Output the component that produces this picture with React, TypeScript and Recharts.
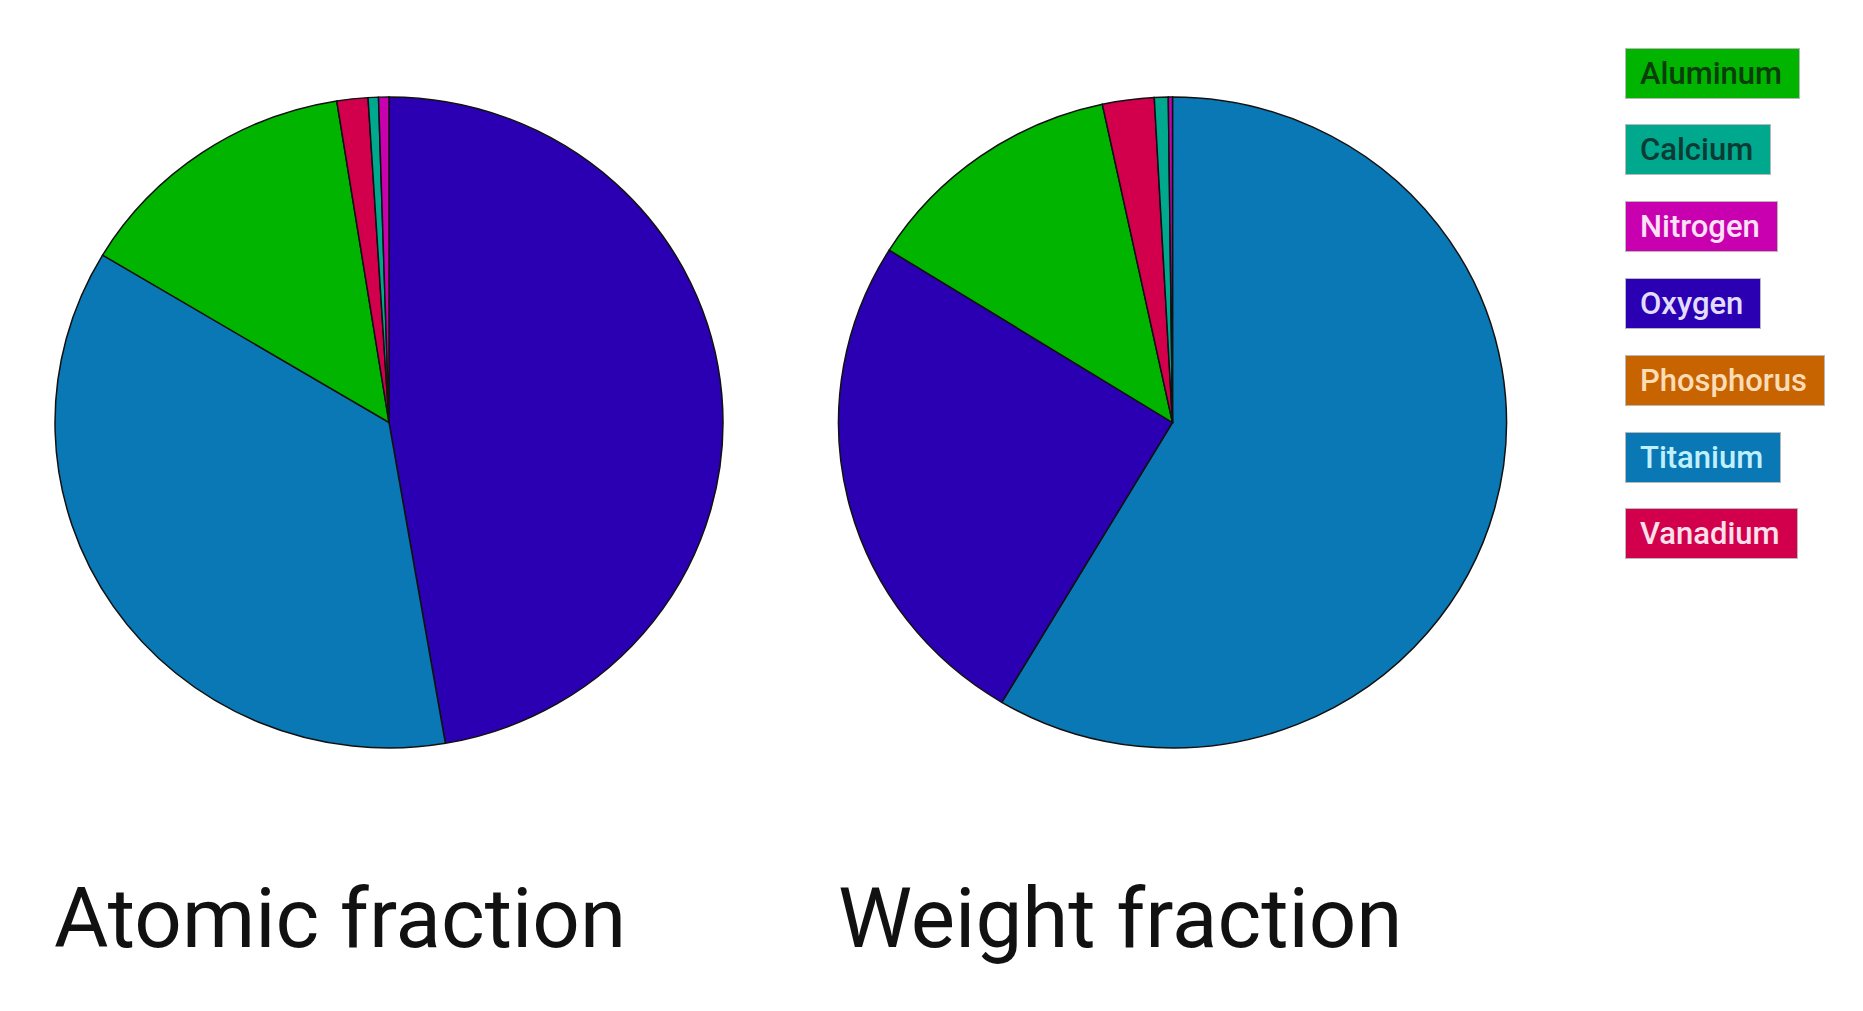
import { PieChart, Pie, Cell } from 'recharts';

// element order as drawn clockwise from 12 o'clock
const atomicNames = ['Oxygen', 'Titanium', 'Aluminum', 'Vanadium', 'Calcium', 'Nitrogen'];
const atomicValues = [47.3, 36.3, 13.9, 1.5, 0.5, 0.5];

const weightNames = ['Titanium', 'Oxygen', 'Aluminum', 'Vanadium', 'Calcium', 'Nitrogen'];
const weightValues = [58.55, 25.35, 12.75, 2.5, 0.67, 0.2];

const legendNames = ['Aluminum', 'Calcium', 'Nitrogen', 'Oxygen', 'Phosphorus', 'Titanium', 'Vanadium'];
const titles = ['Atomic fraction', 'Weight fraction'];

const COLORS: Record<string, string> = {
  Aluminum: '#00b400',
  Calcium: '#00a88e',
  Nitrogen: '#c800b0',
  Oxygen: '#2a00b2',
  Phosphorus: '#c86400',
  Titanium: '#0a78b4',
  Vanadium: '#d2004c',
};

const TEXT_COLORS: Record<string, string> = {
  Aluminum: '#0b3d0b',
  Calcium: '#0b3b33',
  Nitrogen: '#fbe0f6',
  Oxygen: '#e2dcff',
  Phosphorus: '#fcdcb6',
  Titanium: '#bff0ff',
  Vanadium: '#fde0ea',
};

const atomicData = atomicNames.map((name, i) => ({ name, value: atomicValues[i] }));
const weightData = weightNames.map((name, i) => ({ name, value: weightValues[i] }));

const font = 'Roboto, "Noto Sans", sans-serif';

export default function App() {
  return (
    <div style={{ position: 'relative', width: 1847, height: 995, background: '#fff', fontFamily: font }}>
      {/* source picture is slightly squashed vertically */}
      <div style={{ transform: 'scaleY(0.9746)', transformOrigin: '0 0', width: 1560, height: 880 }}>
        <PieChart width={1560} height={880} margin={{ top: 0, right: 0, bottom: 0, left: 0 }}>
          <Pie
            data={atomicData}
            dataKey="value"
            cx={381}
            cy={425.3}
            outerRadius={334}
            startAngle={90}
            endAngle={-270}
            stroke="#111"
            strokeWidth={1.5}
            isAnimationActive={false}
          >
            {atomicData.map((d) => (
              <Cell key={d.name} fill={COLORS[d.name]} />
            ))}
          </Pie>
          <Pie
            data={weightData}
            dataKey="value"
            cx={1164.5}
            cy={425.3}
            outerRadius={334}
            startAngle={90}
            endAngle={-270}
            stroke="#111"
            strokeWidth={1.5}
            isAnimationActive={false}
          >
            {weightData.map((d) => (
              <Cell key={d.name} fill={COLORS[d.name]} />
            ))}
          </Pie>
        </PieChart>
      </div>

      {titles.map((t, i) => (
        <div
          key={t}
          style={{
            position: 'absolute',
            left: i === 0 ? 46 : 830,
            top: 860.5,
            fontSize: 83.5,
            lineHeight: '100px',
            color: '#111',
            whiteSpace: 'nowrap',
          }}
        >
          {t}
        </div>
      ))}

      {legendNames.map((name, i) => (
        <div
          key={name}
          style={{
            position: 'absolute',
            left: 1617,
            top: 39.5 + i * 76.8,
            height: 49,
            lineHeight: '49px',
            padding: '0 17px 0 14px',
            background: COLORS[name],
            border: '1px solid #b8b8b8',
            color: TEXT_COLORS[name],
            fontSize: 31,
            fontWeight: 500,
            whiteSpace: 'nowrap',
          }}
        >
          {name}
        </div>
      ))}
    </div>
  );
}
